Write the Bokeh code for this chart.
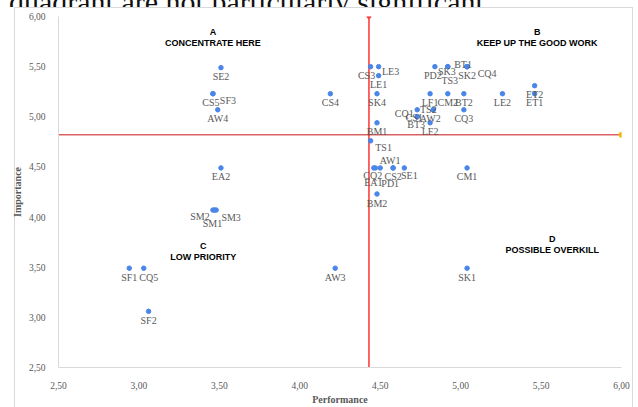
from bokeh.plotting import figure
from bokeh.layouts import column
from bokeh.models import ColumnDataSource, FixedTicker, Range1d, Div
from bokeh.core.properties import value
from bokeh.embed import file_html
from bokeh.resources import INLINE

# ---- data ----
items = ["SE2", "CS5", "SF3", "AW4", "EA2", "SM2", "SM1", "SM3", "SF1", "CQ5",
         "SF2", "AW3", "CS4", "CS3", "LE3", "LE1", "SK4", "PD2", "SK3", "TS3",
         "BT1", "SK2", "CQ4", "LF1", "CM2", "BT2", "LE2", "ET2", "ET1", "CQ1",
         "TS2", "AW2", "CS1", "BT3", "LF2", "CQ3", "BM1", "TS1", "AW1", "CQ2",
         "EA1", "PD1", "CS2", "SE1", "CM1", "BM2", "SK1"]
performance = [3.51, 3.46, 3.46, 3.49, 3.51, 3.46, 3.47, 3.48, 2.94, 3.03,
               3.06, 4.22, 4.19, 4.44, 4.49, 4.49, 4.48, 4.84, 4.92, 4.92,
               5.04, 5.04, 5.04, 4.81, 4.92, 5.02, 5.26, 5.46, 5.46, 4.73,
               4.83, 4.83, 4.73, 4.73, 4.81, 5.02, 4.48, 4.44, 4.58, 4.46,
               4.47, 4.50, 4.58, 4.65, 5.04, 4.48, 5.04]
importance = [5.49, 5.23, 5.23, 5.07, 4.49, 4.07, 4.07, 4.07, 3.49, 3.49,
              3.06, 3.49, 5.23, 5.50, 5.50, 5.41, 5.23, 5.50, 5.50, 5.50,
              5.50, 5.50, 5.50, 5.23, 5.23, 5.23, 5.23, 5.31, 5.23, 5.07,
              5.07, 5.07, 5.00, 5.00, 4.94, 5.07, 4.94, 4.76, 4.49, 4.49,
              4.49, 4.49, 4.49, 4.49, 4.49, 4.23, 3.49]
mean_performance = 4.43
mean_importance = 4.82

tick_values = [2.5, 3.0, 3.5, 4.0, 4.5, 5.0, 5.5, 6.0]
tick_labels = ["2,50", "3,00", "3,50", "4,00", "4,50", "5,00", "5,50", "6,00"]

quad_letters = ["A", "B", "C", "D"]
quad_titles = ["CONCENTRATE HERE", "KEEP UP THE GOOD WORK", "LOW PRIORITY", "POSSIBLE OVERKILL"]

page_text = "quadrant are not particularly significant."

# ---- layout / style (label nudges in screen pixels) ----
default_nudge = (0, 9)
nudges = {
    "CS5": (-2, 9), "SF3": (15, 7), "SM2": (-13, 6), "SM1": (-2, 13), "SM3": (15, 7),
    "CQ5": (5, 9), "CS3": (-4, 9), "LE3": (12, 5), "PD2": (-2, 9), "SK3": (-1, 5),
    "TS3": (2, 14), "BT1": (-4, -2), "CQ4": (20, 7), "CQ1": (-13, 4), "TS2": (-5, 0),
    "AW2": (-3, 9), "CS1": (-3, 1), "BT3": (-1, 8), "TS1": (13, 7), "AW1": (-3, -7),
    "CQ2": (-1, 8), "EA1": (-2, 15), "PD1": (10, 16), "SE1": (5, 8),
}
dx = [nudges.get(n, default_nudge)[0] for n in items]
dy = [nudges.get(n, default_nudge)[1] for n in items]

quad_x = [3.46, 5.476, 3.40, 5.569]
quad_y = [5.794, 5.794, 3.654, 3.729]

src = ColumnDataSource(dict(item=items, perf=performance, imp=importance, dx=dx, dy=dy))
qsrc = ColumnDataSource(dict(x=quad_x, y=quad_y, letter=quad_letters, title=quad_titles))

grey = "#d9d9d9"
border_css = (
    f"linear-gradient({grey},{grey}) 14px 0px / 1px 400px no-repeat, "
    f"linear-gradient({grey},{grey}) 14px 0px / 619px 1px no-repeat, "
    f"linear-gradient({grey},{grey}) 632px 0px / 1px 400px no-repeat, white"
)

serif = "Liberation Serif"

# top line of the surrounding document (only its lower part is visible)
head = Div(
    text=(f'<div style="margin-top:-21px; margin-left:9px; font-family:\'{serif}\'; '
          f'font-size:30px; line-height:29px; white-space:nowrap; color:#111;">{page_text}</div>'),
    width=638, height=7, margin=(0, 0, 0, 0),
)

p = figure(width=638, height=400, output_backend="svg", toolbar_location=None,
           x_range=Range1d(2.5, 6.0), y_range=Range1d(2.5, 6.0),
           min_border_left=58, min_border_right=17, min_border_top=9, min_border_bottom=30,
           background_fill_color="white", border_fill_alpha=0,
           margin=(0, 0, 0, 0), styles={"background": border_css})
p.xgrid.visible = False
p.ygrid.visible = False
p.outline_line_color = None

for ax in (p.xaxis[0], p.yaxis[0]):
    ax.ticker = FixedTicker(ticks=tick_values)
    ax.major_label_overrides = dict(zip(tick_values, tick_labels))
    ax.major_tick_line_color = None
    ax.minor_tick_line_color = None
    ax.axis_line_color = grey
    ax.axis_line_width = 1
    ax.major_label_text_font = serif
    ax.major_label_text_font_size = "9.5px"
    ax.major_label_text_color = "#595959"
    ax.axis_label_text_font = serif
    ax.axis_label_text_font_size = "10px"
    ax.axis_label_text_font_style = "bold"
    ax.axis_label_text_color = "#595959"

p.xaxis.axis_label = "Performance"
p.yaxis.axis_label = "Importance"
p.xaxis.major_label_standoff = 8
p.yaxis.major_label_standoff = 7
p.xaxis.axis_label_standoff = 2
p.yaxis.axis_label_standoff = 3

# mean lines
p.line([mean_performance, mean_performance], [2.5, 6.0], line_color="#ff4040", line_width=1.6)
p.scatter([mean_performance], [6.0], size=4, color="#ff4040")
p.line([2.5, 6.0], [mean_importance, mean_importance], line_color="#c81414", line_width=1)
p.scatter([6.0], [mean_importance], size=5, color="#f4b400")

# points and labels
p.scatter("perf", "imp", source=src, size=4.5, color="#4a86e8")
p.text("perf", "imp", text="item", source=src, x_offset="dx", y_offset="dy",
       text_font=value(serif), text_font_size="10px", text_color="#595959",
       text_align="center", text_baseline="middle")

# quadrant labels
sans = "Liberation Sans"
p.text("x", "y", text="letter", source=qsrc, y_offset=-5.5,
       text_font=value(sans), text_font_size="9px", text_font_style="bold",
       text_color="black", text_align="center", text_baseline="middle")
p.text("x", "y", text="title", source=qsrc, y_offset=5.5,
       text_font=value(sans), text_font_size="9px", text_font_style="bold",
       text_color="black", text_align="center", text_baseline="middle")

layout = column(head, p, spacing=0, margin=(0, 0, 0, 0))
open("out.html", "w").write(file_html(layout, INLINE))
